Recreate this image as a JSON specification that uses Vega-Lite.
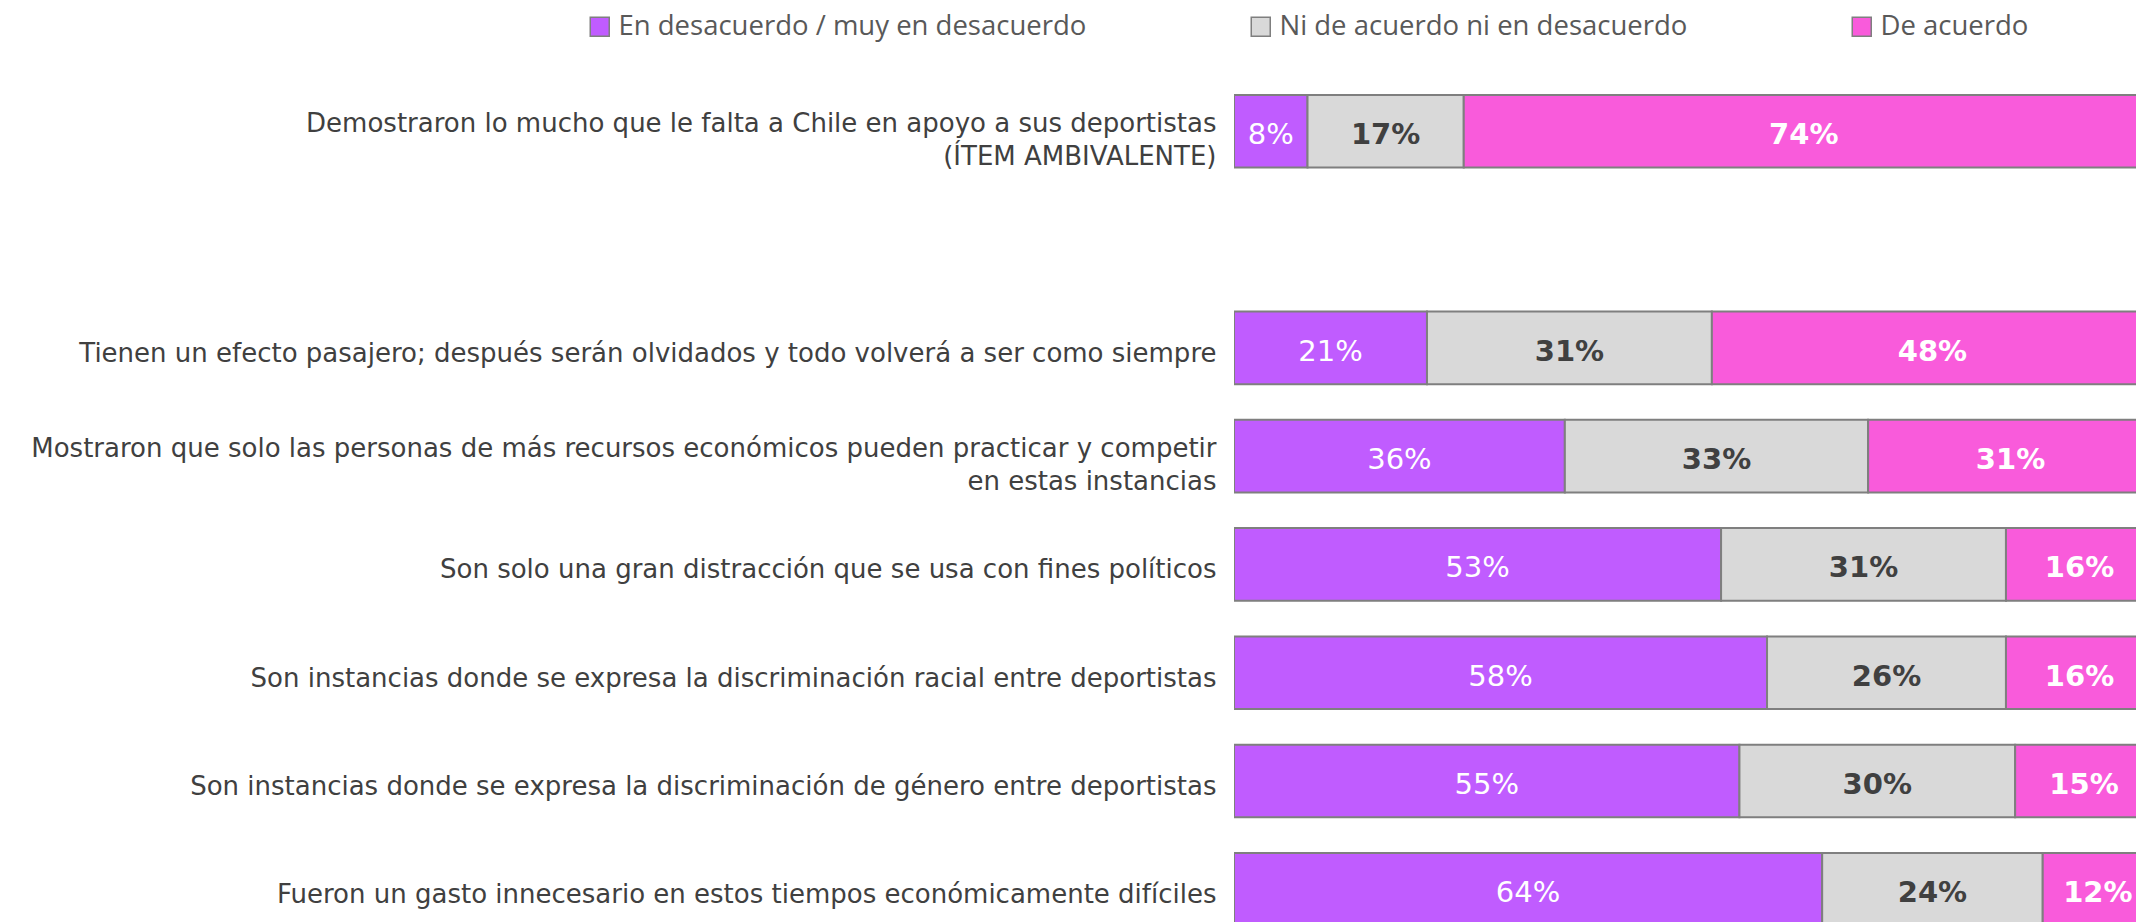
{
  "$schema": "https://vega.github.io/schema/vega-lite/v6.json",
  "width": 902,
  "height": 862,
  "autosize": {"type": "none"},
  "padding": {"left": 1234, "top": 60, "right": 0, "bottom": 0},
  "background": "white",
  "config": {"view": {"stroke": null}},
  "data": {
    "values": [
      {"item": "Demostraron lo mucho que le falta a Chile en apoyo a sus deportistas\n(ÍTEM AMBIVALENTE)", "cat": "En desacuerdo / muy en desacuerdo", "k": 1, "v": 0.08},
      {"item": "Demostraron lo mucho que le falta a Chile en apoyo a sus deportistas\n(ÍTEM AMBIVALENTE)", "cat": "Ni de acuerdo ni en desacuerdo", "k": 2, "v": 0.17},
      {"item": "Demostraron lo mucho que le falta a Chile en apoyo a sus deportistas\n(ÍTEM AMBIVALENTE)", "cat": "De acuerdo", "k": 3, "v": 0.74},
      {"item": "Tienen un efecto pasajero; después serán olvidados y todo volverá a ser como siempre", "cat": "En desacuerdo / muy en desacuerdo", "k": 1, "v": 0.21},
      {"item": "Tienen un efecto pasajero; después serán olvidados y todo volverá a ser como siempre", "cat": "Ni de acuerdo ni en desacuerdo", "k": 2, "v": 0.31},
      {"item": "Tienen un efecto pasajero; después serán olvidados y todo volverá a ser como siempre", "cat": "De acuerdo", "k": 3, "v": 0.48},
      {"item": "Mostraron que solo las personas de más recursos económicos pueden practicar y competir\nen estas instancias", "cat": "En desacuerdo / muy en desacuerdo", "k": 1, "v": 0.36},
      {"item": "Mostraron que solo las personas de más recursos económicos pueden practicar y competir\nen estas instancias", "cat": "Ni de acuerdo ni en desacuerdo", "k": 2, "v": 0.33},
      {"item": "Mostraron que solo las personas de más recursos económicos pueden practicar y competir\nen estas instancias", "cat": "De acuerdo", "k": 3, "v": 0.31},
      {"item": "Son solo una gran distracción que se usa con fines políticos", "cat": "En desacuerdo / muy en desacuerdo", "k": 1, "v": 0.53},
      {"item": "Son solo una gran distracción que se usa con fines políticos", "cat": "Ni de acuerdo ni en desacuerdo", "k": 2, "v": 0.31},
      {"item": "Son solo una gran distracción que se usa con fines políticos", "cat": "De acuerdo", "k": 3, "v": 0.16},
      {"item": "Son instancias donde se expresa la discriminación racial entre deportistas", "cat": "En desacuerdo / muy en desacuerdo", "k": 1, "v": 0.58},
      {"item": "Son instancias donde se expresa la discriminación racial entre deportistas", "cat": "Ni de acuerdo ni en desacuerdo", "k": 2, "v": 0.26},
      {"item": "Son instancias donde se expresa la discriminación racial entre deportistas", "cat": "De acuerdo", "k": 3, "v": 0.16},
      {"item": "Son instancias donde se expresa la discriminación de género entre deportistas", "cat": "En desacuerdo / muy en desacuerdo", "k": 1, "v": 0.55},
      {"item": "Son instancias donde se expresa la discriminación de género entre deportistas", "cat": "Ni de acuerdo ni en desacuerdo", "k": 2, "v": 0.30},
      {"item": "Son instancias donde se expresa la discriminación de género entre deportistas", "cat": "De acuerdo", "k": 3, "v": 0.15},
      {"item": "Fueron un gasto innecesario en estos tiempos económicamente difíciles", "cat": "En desacuerdo / muy en desacuerdo", "k": 1, "v": 0.64},
      {"item": "Fueron un gasto innecesario en estos tiempos económicamente difíciles", "cat": "Ni de acuerdo ni en desacuerdo", "k": 2, "v": 0.24},
      {"item": "Fueron un gasto innecesario en estos tiempos económicamente difíciles", "cat": "De acuerdo", "k": 3, "v": 0.12}
    ]
  },
  "transform": [
    {"stack": "v", "groupby": ["item"], "sort": [{"field": "k", "order": "ascending"}], "as": ["v0", "v1"]},
    {"calculate": "(datum.v0 + datum.v1) / 2", "as": "mid"}
  ],
  "encoding": {
    "y": {
      "field": "item",
      "type": "nominal",
      "scale": {
        "domain": [
          "Demostraron lo mucho que le falta a Chile en apoyo a sus deportistas\n(ÍTEM AMBIVALENTE)",
          " ",
          "Tienen un efecto pasajero; después serán olvidados y todo volverá a ser como siempre",
          "Mostraron que solo las personas de más recursos económicos pueden practicar y competir\nen estas instancias",
          "Son solo una gran distracción que se usa con fines políticos",
          "Son instancias donde se expresa la discriminación racial entre deportistas",
          "Son instancias donde se expresa la discriminación de género entre deportistas",
          "Fueron un gasto innecesario en estos tiempos económicamente difíciles"
        ],
        "range": [0, 900.6],
        "paddingInner": 0.329,
        "paddingOuter": 0.3227
      },
      "axis": {
        "title": null,
        "domain": false,
        "ticks": false,
        "labelPadding": 18,
        "labelLimit": 0,
        "labelFont": "DejaVu Sans",
        "labelFontSize": 26,
        "labelColor": "#404040",
        "labelLineHeight": 33,
        "labelOffset": {"condition": {"test": "indexof(datum.label, '\\n') >= 0", "value": -7}, "value": 6},
        "labelExpr": "split(datum.label, '\\n')"
      }
    }
  },
  "layer": [
    {
      "mark": {"type": "bar", "stroke": "#7F7F7F", "strokeWidth": 2, "clip": true},
      "encoding": {
        "x": {"field": "v0", "type": "quantitative", "scale": {"domain": [0, 0.9815], "nice": false, "zero": true}, "axis": null},
        "x2": {"field": "v1"},
        "color": {
          "field": "cat",
          "type": "nominal",
          "scale": {
            "domain": ["En desacuerdo / muy en desacuerdo", "Ni de acuerdo ni en desacuerdo", "De acuerdo"],
            "range": ["#C05CFF", "#D9D9D9", "#F95BDB"]
          },
          "legend": {
            "title": null,
            "orient": "none",
            "legendX": -648,
            "legendY": -47.5,
            "direction": "horizontal",
            "columns": 3,
            "columnPadding": 160,
            "symbolType": "square",
            "symbolSize": 361,
            "symbolStrokeColor": "#7F7F7F",
            "symbolStrokeWidth": 1.5,
            "labelFont": "Open Sans",
            "labelFontSize": 27.5,
            "labelColor": "#595959",
            "labelOffset": 5,
            "labelLimit": 0,
            "padding": 0
          }
        }
      }
    },
    {
      "transform": [{"filter": "datum.k == 1"}],
      "mark": {"type": "text", "font": "DejaVu Sans", "fontSize": 29, "fontWeight": "normal", "color": "#FFFFFF", "dy": 4, "clip": true},
      "encoding": {
        "x": {"field": "mid", "type": "quantitative", "scale": {"domain": [0, 0.9815], "nice": false, "zero": true}, "axis": null},
        "text": {"field": "v", "type": "quantitative", "format": ".0%"}
      }
    },
    {
      "transform": [{"filter": "datum.k == 2"}],
      "mark": {"type": "text", "font": "DejaVu Sans", "fontSize": 29, "fontWeight": "bold", "color": "#404040", "dy": 4, "clip": true},
      "encoding": {
        "x": {"field": "mid", "type": "quantitative", "scale": {"domain": [0, 0.9815], "nice": false, "zero": true}, "axis": null},
        "text": {"field": "v", "type": "quantitative", "format": ".0%"}
      }
    },
    {
      "transform": [{"filter": "datum.k == 3"}],
      "mark": {"type": "text", "font": "DejaVu Sans", "fontSize": 29, "fontWeight": "bold", "color": "#FFFFFF", "dy": 4, "clip": true},
      "encoding": {
        "x": {"field": "mid", "type": "quantitative", "scale": {"domain": [0, 0.9815], "nice": false, "zero": true}, "axis": null},
        "text": {"field": "v", "type": "quantitative", "format": ".0%"}
      }
    }
  ]
}
